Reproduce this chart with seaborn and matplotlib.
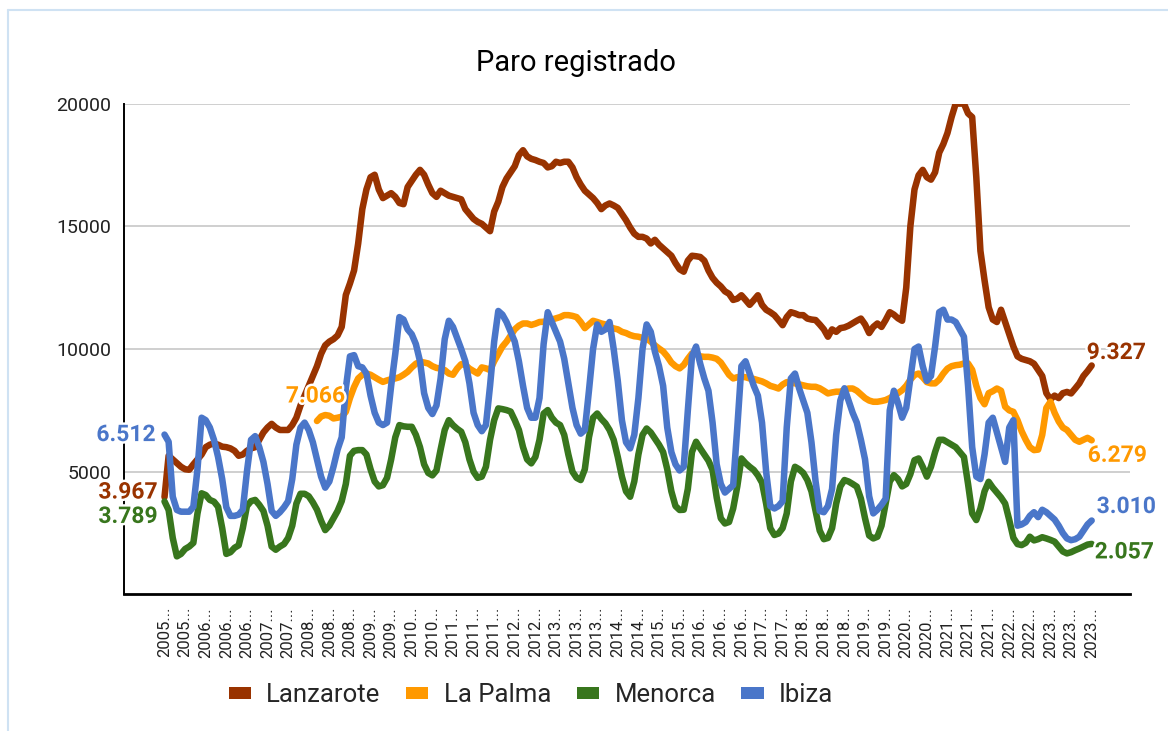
import matplotlib
matplotlib.use("Agg")
import matplotlib.pyplot as plt
import matplotlib.patheffects as pe
from matplotlib.patches import Patch
from matplotlib.lines import Line2D
import numpy as np
import pandas as pd
import seaborn as sns

# ---------------- data (monthly, Mar 2005 - Dec 2023) ----------------
series_names = ["Lanzarote", "La Palma", "Menorca", "Ibiza"]
colors = ["#993300", "#ff9900", "#38761d", "#4a76c9"]

lanzarote = [
    3967, 5650, 5500, 5350, 5200, 5100, 5080, 5300, 5500, 5700,
    6000, 6100, 6150, 6100, 6020, 6000, 5950, 5850, 5650, 5700,
    5850, 5950, 6000, 6300, 6600, 6800, 6950, 6800, 6700, 6700,
    6700, 6900, 7200, 7700, 8100, 8500, 8900, 9300, 9800, 10150,
    10300, 10400, 10550, 10900, 12200, 12670, 13200, 14300, 15700, 16500,
    17000, 17100, 16500, 16150, 16250, 16350, 16200, 15950, 15900, 16600,
    16850, 17100, 17300, 17100, 16700, 16350, 16200, 16450, 16350, 16250,
    16200, 16150, 16100, 15700, 15500, 15300, 15180, 15100, 14950, 14800,
    15600, 16000, 16600, 16950, 17200, 17450, 17900, 18100, 17850, 17750,
    17700, 17630, 17580, 17400, 17450, 17630, 17580, 17630, 17630, 17400,
    17000, 16700, 16450, 16300, 16150, 15950, 15700, 15850, 15930, 15850,
    15750, 15500, 15250, 14950, 14700, 14570, 14570, 14500, 14300, 14450,
    14250, 14100, 13950, 13800, 13500, 13250, 13150, 13600, 13800, 13780,
    13750, 13600, 13200, 12900, 12700, 12550, 12350, 12250, 12000, 12050,
    12190, 12000, 11800, 11990, 12190, 11800, 11600, 11500, 11380, 11180,
    10970, 11300, 11500, 11450, 11380, 11380, 11240, 11200, 11180, 11000,
    10800, 10500, 10800, 10700, 10850, 10880, 10950, 11050, 11150, 11240,
    11000, 10650, 10900, 11040, 10900, 11180, 11500, 11400, 11250, 11150,
    12500, 15000, 16500, 17080, 17300, 17000, 16900, 17200, 18000, 18350,
    18800, 19450, 20000, 20000, 20000, 19600, 19450, 17000, 14000, 12800,
    11700, 11200, 11100, 11600, 11100, 10600, 10100, 9700, 9600, 9550,
    9500, 9400, 9150, 8900, 8200, 7950, 8100, 8000, 8200, 8250,
    8190, 8390, 8600, 8900, 9100, 9327,
]

la_palma_start = 37  # La Palma series begins in April 2008
la_palma = [
    7066, 7250, 7310,
    7280, 7170, 7200, 7240, 7440, 8000, 8450, 8800, 8950, 9000,
    8950, 8850, 8750, 8660, 8720, 8770, 8800, 8850, 8950, 9070,
    9250, 9400, 9480, 9450, 9410, 9300, 9230, 9200, 9140, 9000,
    8950, 9200, 9380, 9350, 9200, 9100, 9000, 9250, 9210, 9140,
    9500, 9800, 10100, 10300, 10550, 10800, 10950, 11040, 11040, 10980,
    11030, 11100, 11110, 11150, 11200, 11250, 11300, 11380, 11380, 11350,
    11300, 11100, 10850, 11000, 11150, 11100, 11040, 11000, 10900, 10840,
    10800, 10700, 10650, 10570, 10520, 10500, 10450, 10430, 10300, 10150,
    10020, 9900, 9700, 9450, 9300, 9210, 9350, 9600, 9820, 9800,
    9700, 9680, 9680, 9650, 9600, 9450, 9200, 8950, 8800, 8850,
    8870, 8850, 8800, 8780, 8730, 8680, 8600, 8500, 8450, 8390,
    8550, 8650, 8650, 8600, 8560, 8520, 8480, 8460, 8460, 8400,
    8300, 8190, 8230, 8260, 8260, 8330, 8390, 8390, 8300, 8150,
    8000, 7900, 7850, 7850, 7880, 7920, 8000, 8100, 8200, 8320,
    8500, 8750, 8940, 9000, 8850, 8650, 8600, 8600, 8750, 9000,
    9200, 9300, 9340, 9360, 9410, 9410, 9150, 8500, 8000, 7750,
    8200, 8280, 8390, 8300, 7650, 7500, 7440, 7100, 6650, 6300,
    6000, 5880, 5900, 6500, 7600, 7850, 7400, 7050, 6800, 6700,
    6500, 6300, 6220, 6300, 6380, 6279,
]

menorca = [
    3789, 3440, 2300, 1550, 1650, 1850, 1950, 2100, 3300, 4120,
    4050, 3850, 3780, 3570, 2700, 1650, 1720, 1900, 2000, 2700,
    3600, 3800, 3850, 3650, 3400, 2800, 1950, 1820, 1950, 2050,
    2300, 2800, 3700, 4100, 4100, 4000, 3750, 3450, 3000, 2620,
    2800, 3100, 3400, 3800, 4500, 5650, 5850, 5880, 5880, 5700,
    5100, 4600, 4400, 4450, 4750, 5500, 6400, 6900, 6850, 6830,
    6830, 6500, 6000, 5300, 4950, 4850, 5050, 5900, 6700, 7100,
    6900, 6750, 6630, 6200, 5500, 5000, 4750, 4800, 5200, 6300,
    7100, 7580, 7550, 7510, 7450, 7100, 6700, 6000, 5500, 5340,
    5600, 6300, 7370, 7510, 7200, 7000, 6900, 6500, 5700, 5000,
    4750, 4660, 5100, 6400, 7200, 7370, 7150, 6970, 6700, 6300,
    5600, 4800, 4200, 3980, 4600, 5700, 6500, 6760, 6600, 6350,
    6100, 5800, 5100, 4200, 3600, 3440, 3450, 4300, 5800, 6220,
    5950, 5700, 5450, 5070, 3950, 3100, 2890, 2950, 3500, 4400,
    5540, 5350, 5200, 5070, 4850, 4550, 3700, 2700, 2420, 2480,
    2700, 3300, 4600, 5200, 5100, 4950, 4660, 4200, 3400, 2600,
    2250, 2300, 2700, 3700, 4400, 4660, 4600, 4500, 4390, 3900,
    3100, 2400, 2280, 2350, 2800, 3700, 4600, 4860, 4700, 4400,
    4500, 4900, 5470, 5540, 5200, 4800, 5200, 5800, 6300, 6300,
    6200, 6100, 6000, 5800, 5600, 4500, 3300, 3030, 3500, 4200,
    4590, 4350, 4150, 3950, 3700, 3030, 2300, 2050, 2010, 2100,
    2350, 2200, 2250, 2330, 2280, 2220, 2150, 1950, 1750, 1670,
    1720, 1800, 1870, 1950, 2030, 2057,
]

ibiza = [
    6512, 6220, 3980, 3440, 3370, 3370, 3370, 3570, 5100, 7200,
    7100, 6800, 6300, 5600, 4700, 3550, 3200, 3200, 3250, 3450,
    5000, 6300, 6450, 6000, 5400, 4500, 3400, 3200, 3350, 3550,
    3800, 4700, 6100, 6800, 7000, 6700, 6200, 5500, 4800, 4350,
    4600, 5200, 5900, 6400, 8400, 9700, 9750, 9300, 9250, 9000,
    8100, 7400, 7000, 6900, 7000, 8500, 9800, 11300, 11200, 10800,
    10600, 10200, 9500, 8200, 7600, 7350, 7700, 8800, 10400, 11150,
    10900, 10450, 10000, 9500, 8600, 7400, 6900, 6650, 6900, 8500,
    10300, 11550, 11400, 11100, 10700, 10300, 9500, 8500, 7600, 7200,
    7200, 8000, 10200, 11500, 11100, 10700, 10300, 9600, 8600, 7600,
    6900, 6550, 6700, 8300, 10000, 11000, 10700, 10800, 11100, 10000,
    8700, 7100, 6200, 5950, 6500, 8000, 10000, 11000, 10700, 9900,
    9300, 8500, 6800, 5800, 5300, 5050, 5200, 7500, 9700, 10100,
    9400, 8800, 8300, 7000, 5300, 4500, 4150, 4300, 4450, 6800,
    9300, 9500, 9000, 8500, 8100, 7000, 5000, 3600, 3500, 3600,
    3800, 6800, 8800, 9000, 8400, 7900, 7400, 6200, 4600, 3400,
    3350, 3600, 4300, 6500, 7900, 8400, 7900, 7400, 7000, 6300,
    5500, 4000, 3300, 3450, 3650, 3900, 7500, 8300, 7800, 7200,
    7600, 8800, 10000, 10100, 9300, 8700, 8900, 10100, 11500, 11600,
    11200, 11200, 11100, 10800, 10500, 8500, 6000, 4800, 4700, 5700,
    7000, 7200, 6600, 6000, 5400, 6800, 7100, 2800, 2850, 2950,
    3200, 3350, 3150, 3450, 3350, 3200, 3050, 2800, 2500, 2280,
    2210, 2250, 2350, 2600, 2850, 3010,
]

tick_labels = [
    "2005...", "2005...", "2006...", "2006...", "2006...", "2007...", "2007...",
    "2008...", "2008...", "2008...", "2009...", "2009...", "2010...", "2010...",
    "2011...", "2011...", "2011...", "2012...", "2012...", "2013...", "2013...",
    "2013...", "2014...", "2014...", "2015...", "2015...", "2016...", "2016...",
    "2016...", "2017...", "2017...", "2018...", "2018...", "2018...", "2019...",
    "2019...", "2020...", "2020...", "2021...", "2021...", "2021...", "2022...",
    "2022...", "2023...", "2023...", "2023...",
]
tick_step = 5

# ---------------- long-form table ----------------
frames = []
for name, vals, start in [("Lanzarote", lanzarote, 0), ("La Palma", la_palma, la_palma_start),
                          ("Menorca", menorca, 0), ("Ibiza", ibiza, 0)]:
    frames.append(pd.DataFrame({"mes": np.arange(start, start + len(vals)),
                                "valor": vals, "isla": name}))
df = pd.concat(frames, ignore_index=True)
n_months = len(lanzarote)

# ---------------- figure ----------------
sns.set_style("white")
plt.rcParams["font.family"] = ["Roboto", "DejaVu Sans"]

W, H = 1168, 731
fig = plt.figure(figsize=(W / 100, H / 100), dpi=100)
ax = fig.add_axes([124 / W, 1 - 594.4 / H, (1130 - 124) / W, (594.4 - 103.6) / H])

sns.lineplot(data=df, x="mes", y="valor", hue="isla", hue_order=series_names,
             palette=colors, linewidth=4.7, legend=False, ax=ax,
             estimator=None, sort=False)
for ln in ax.lines:
    ln.set_solid_capstyle("round")
    ln.set_solid_joinstyle("round")

ax.set_xlim(-9.83, 234.3)
ax.set_ylim(0, 20000)
ax.set_yticks([5000, 10000, 15000, 20000])
ax.set_yticklabels(["5000", "10000", "15000", "20000"])
ax.set_xticks(np.arange(0, n_months, tick_step))
ax.set_xticklabels(tick_labels, rotation=90, va="top", ha="center")
ax.tick_params(axis="y", length=0, pad=9, labelsize=14, labelcolor="#222222")
ax.tick_params(axis="x", length=0, pad=9, labelsize=12, labelcolor="#222222")
ax.yaxis.grid(True, color="#cccccc", linewidth=1.3)
ax.xaxis.grid(False)
ax.set_axisbelow(True)
for s in ["top", "right"]:
    ax.spines[s].set_visible(False)
ax.spines["left"].set_color("#000000")
ax.spines["left"].set_linewidth(1.4)
ax.spines["bottom"].set_color("#000000")
ax.spines["bottom"].set_linewidth(2.0)
ax.set_xlabel("")
ax.set_ylabel("")

# ---------------- data labels ----------------
def fmt(v):
    return f"{v:,}".replace(",", ".")

px = 0.72  # points per pixel
halo = [pe.withStroke(linewidth=3.5, foreground="white")]
labels = [
    # (value, x index, colour, dx px, dy px, ha)
    (ibiza[0], 0, colors[3], -9, 0, "right"),
    (lanzarote[0], 0, colors[0], -7, 5, "right"),
    (menorca[0], 0, colors[2], -7, -15, "right"),
    (la_palma[0], la_palma_start, colors[1], 28, 25, "right"),
    (lanzarote[-1], n_months - 1, colors[0], -5, 13, "left"),
    (la_palma[-1], n_months - 1, colors[1], -4, -15, "left"),
    (ibiza[-1], n_months - 1, colors[3], 5, 14, "left"),
    (menorca[-1], n_months - 1, colors[2], 3, -8, "left"),
]
for v, xi, c, dx, dy, ha in labels:
    ax.annotate(fmt(v), (xi, v), xytext=(dx * px, dy * px), textcoords="offset points",
                ha=ha, va="center", fontsize=16.5, fontweight="bold", color=c,
                path_effects=halo, annotation_clip=False, zorder=5)

# ---------------- title & legend ----------------
fig.text(576 / W, 1 - 63 / H, "Paro registrado", ha="center", va="center",
         fontsize=21, color="#000000")

handles = [Patch(facecolor=c, edgecolor="none") for c in colors]
fig.legend(handles, series_names, loc="center", bbox_to_anchor=(531 / W, 1 - 695 / H),
           ncol=4, frameon=False, fontsize=18.5, handlelength=0.86, handleheight=0.32,
           handletextpad=0.6, columnspacing=1.0)

# light blue frame border
fig.add_artist(Line2D([8 / W, 8 / W], [0, 1 - 10 / H], color="#cfe2f3", lw=1.5,
                      transform=fig.transFigure))
fig.add_artist(Line2D([8 / W, 1], [1 - 10 / H, 1 - 10 / H], color="#cfe2f3", lw=1.5,
                      transform=fig.transFigure))

fig.savefig("out.png", dpi=100)
